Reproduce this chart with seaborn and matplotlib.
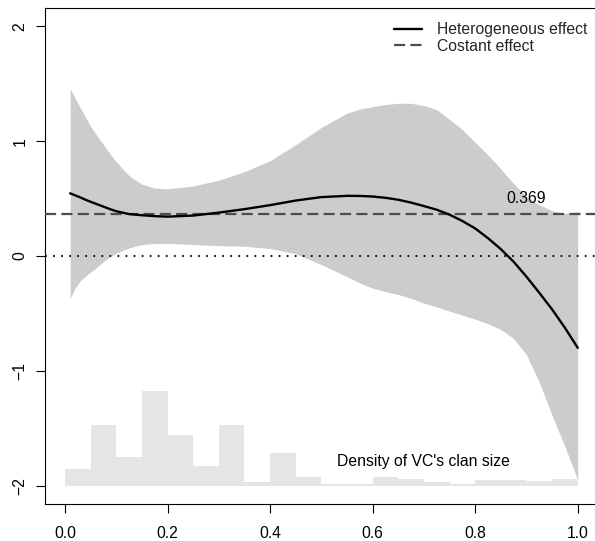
import numpy as np
import pandas as pd
import matplotlib
matplotlib.use("Agg")
import matplotlib.pyplot as plt
import seaborn as sns
from matplotlib.lines import Line2D

# Estimated heterogeneous effect along VC's clan size, with its confidence band
x_grid = [0.01, 0.02, 0.03, 0.04, 0.05, 0.062, 0.075, 0.088, 0.10, 0.125, 0.15,
          0.175, 0.20, 0.25, 0.30, 0.35, 0.40, 0.45, 0.50, 0.55, 0.575, 0.60,
          0.625, 0.65, 0.675, 0.70, 0.725, 0.75, 0.775, 0.80, 0.825, 0.85,
          0.875, 0.90, 0.925, 0.95, 0.975, 1.00]
effect = [0.546, 0.528, 0.51, 0.49, 0.472, 0.452, 0.43, 0.408, 0.39, 0.365, 0.355,
          0.347, 0.343, 0.352, 0.378, 0.408, 0.443, 0.483, 0.513, 0.524, 0.523, 0.518,
          0.507, 0.49, 0.465, 0.435, 0.403, 0.36, 0.305, 0.24, 0.155, 0.06,
          -0.05, -0.18, -0.32, -0.465, -0.625, -0.80]
upper = [1.46, 1.37, 1.29, 1.21, 1.13, 1.05, 0.97, 0.89, 0.82, 0.70, 0.625,
         0.592, 0.585, 0.61, 0.66, 0.735, 0.83, 0.97, 1.12, 1.245, 1.28, 1.30,
         1.32, 1.33, 1.33, 1.31, 1.275, 1.19, 1.10, 0.99, 0.88, 0.76,
         0.63, 0.52, 0.445, 0.395, 0.37, 0.385]
lower = [-0.37, -0.28, -0.215, -0.175, -0.14, -0.10, -0.05, -0.005, 0.025, 0.07, 0.10,
         0.108, 0.11, 0.10, 0.09, 0.085, 0.065, 0.02, -0.075, -0.18, -0.235, -0.28,
         -0.31, -0.335, -0.37, -0.41, -0.445, -0.48, -0.515, -0.55, -0.59, -0.64,
         -0.72, -0.86, -1.10, -1.39, -1.66, -1.95]

# Constant (average) effect
const_effect = 0.369

# Density of VC's clan size (bins of width 0.05)
bin_left = [0.00, 0.05, 0.10, 0.15, 0.20, 0.25, 0.30, 0.35, 0.40, 0.45,
            0.50, 0.55, 0.60, 0.65, 0.70, 0.75, 0.80, 0.85, 0.90, 0.95]
density = [0.143, 0.527, 0.248, 0.823, 0.439, 0.169, 0.527, 0.033, 0.283, 0.071,
           0.012, 0.012, 0.071, 0.056, 0.033, 0.012, 0.050, 0.050, 0.041, 0.062]
bin_width = 0.05
density_base = -2.0

x_ticks = [0.0, 0.2, 0.4, 0.6, 0.8, 1.0]
y_ticks = [-2, -1, 0, 1, 2]

sns.set_theme(style="white")
plt.rcParams["font.family"] = ["Liberation Sans", "DejaVu Sans"]
plt.rcParams["lines.scale_dashes"] = False

fig = plt.figure(figsize=(5.95, 5.41), dpi=100)
ax = fig.add_axes([0.0751, 0.0684, 0.930, 0.9168])

df = pd.DataFrame({"size": x_grid, "effect": effect, "lo": lower, "hi": upper})
hist = pd.DataFrame({"left": bin_left, "density": density})

# density bars
ax.bar(hist["left"], hist["density"], width=bin_width, bottom=density_base,
       align="edge", color="#E5E5E5", linewidth=0, zorder=1)

# confidence band
ax.fill_between(df["size"], df["lo"], df["hi"], color="#CCCCCC", linewidth=0, zorder=2)

# reference lines
ax.axhline(0, color="black", lw=1.3, dashes=(1.3, 4.5), zorder=3)
ax.axhline(const_effect, color="#4D4D4D", lw=1.6, dashes=(8, 3.8), zorder=3)

# heterogeneous effect
sns.lineplot(data=df, x="size", y="effect", ax=ax, color="black", lw=1.7,
             zorder=4, legend=False)

ax.text(0.9, const_effect + 0.13, f"{const_effect:.3f}", ha="center", va="center",
        fontsize=11.3, color="black")
ax.text(0.7, -1.79, "Density of VC's clan size", ha="center", va="center",
        fontsize=11.3, color="black")

handles = [Line2D([], [], color="black", lw=1.7),
           Line2D([], [], color="#4D4D4D", lw=1.6, dashes=(8, 3.8))]
ax.legend(handles, ["Heterogeneous effect", "Costant effect"], loc="upper left",
          bbox_to_anchor=(0.631, 0.971), frameon=False, fontsize=11.3,
          handlelength=1.82, handletextpad=0.94, borderpad=0, borderaxespad=0,
          labelspacing=0.1)

ax.set_xlim(-0.0396, 1.0396)
ax.set_ylim(-2.16, 2.16)
ax.set_xticks(x_ticks)
ax.set_xticklabels([f"{t:.1f}" for t in x_ticks])
ax.set_yticks(y_ticks)
ax.set_yticklabels([str(t).replace("-", "\u2212") for t in y_ticks], rotation=90,
                   va="center")
ax.set_xlabel("")
ax.set_ylabel("")

for sp in ax.spines.values():
    sp.set_visible(True)
    sp.set_color("black")
    sp.set_linewidth(0.8)

ax.tick_params(axis="both", which="both", direction="out", length=6.5, width=0.8,
               colors="black", labelsize=11.3, left=True, bottom=True,
               right=False, top=False)
ax.tick_params(axis="x", pad=9.5)
ax.tick_params(axis="y", pad=6)
ax.grid(False)

fig.savefig("out.png", dpi=100, facecolor="white")
